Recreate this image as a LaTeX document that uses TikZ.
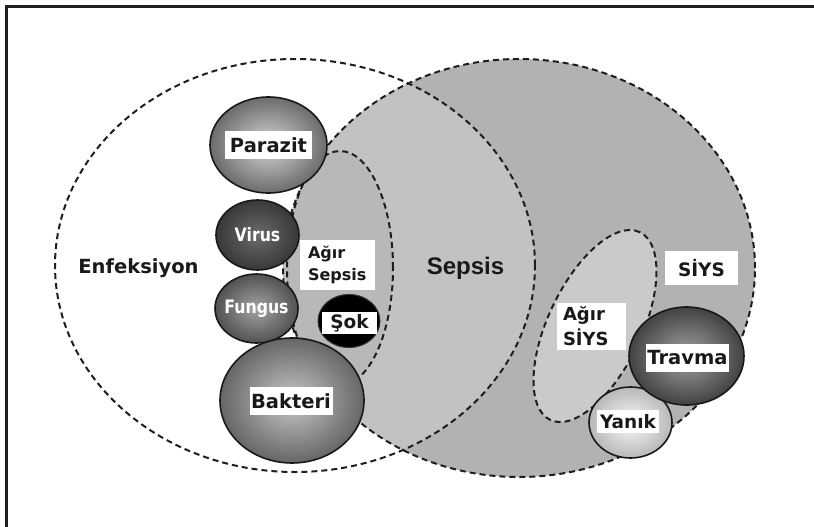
\documentclass[tikz,border=0pt]{standalone}
\usepackage{fontspec}
\setmainfont{DejaVu Sans}
\newfontfamily\condfont{DejaVu Sans}[FakeStretch=0.85]
\newfontfamily\arialfont{Liberation Sans}
\usetikzlibrary{shapes.geometric}
\definecolor{sirsgray}{HTML}{B2B2B2}
\definecolor{sepsgray}{HTML}{C2C2C2}
\definecolor{agsgray}{HTML}{B8B8B8}
\definecolor{agsirgray}{HTML}{CACACA}
\definecolor{linegray}{HTML}{1E1E1E}
\begin{document}
\begin{tikzpicture}[x=1pt,y=-1pt,
  zone/.style={draw=linegray, line width=2pt, dash pattern=on 6pt off 4pt},
  blob/.style={ellipse, draw=black!90, line width=1.6pt, inner sep=0pt, outer sep=0pt},
  tag/.style={fill=white, inner sep=0pt, text=black!90, font=\bfseries\fontsize{19.5}{22}\selectfont},
  whitetag/.style={text=white, inner sep=0pt, font=\condfont\bfseries\fontsize{18.5}{20}\selectfont},
  frameline/.style={draw=black!88, line width=3pt}]
\useasboundingbox (0,0) rectangle (814,527);
\fill[white] (0,0) rectangle (814,527);

% frame (top and left edges only)
\coordinate (ftr) at (814,6.5);
\coordinate (ftl) at (5,6.5);
\coordinate (fbl) at (6.5,527);
\draw[frameline] (ftr) -- (ftl);
\draw[frameline] (6.5,5) -- (fbl);

% zone centres
\coordinate (enfc) at (295,265.5);
\coordinate (sirc) at (519,268);
\coordinate (agsc) at (340,268);
\coordinate (agsirc) at (595,326);

% fills
\fill[sirsgray] (sirc) ellipse [x radius=236pt, y radius=209pt];
\begin{scope}
  \clip (enfc) ellipse [x radius=240pt, y radius=206.5pt];
  \fill[sepsgray] (sirc) ellipse [x radius=236pt, y radius=209pt];
\end{scope}
\fill[agsgray] (agsc) ellipse [x radius=53pt, y radius=117pt];
\fill[agsirgray, rotate around={64.5:(agsirc)}] (agsirc) ellipse [x radius=104pt, y radius=46.7pt];

% dashed outlines
\draw[zone] (sirc) ellipse [x radius=236pt, y radius=209pt];
\draw[zone] (enfc) ellipse [x radius=240pt, y radius=206.5pt];
\draw[zone] (agsc) ellipse [x radius=53pt, y radius=117pt];
\draw[zone, rotate around={64.5:(agsirc)}] (agsirc) ellipse [x radius=104pt, y radius=46.7pt];

% pathogen / cause blobs
\node[blob, minimum width=117pt, minimum height=96pt, inner color=black!16, outer color=black!58] (parazit) at (268.5,145) {};
\node[blob, minimum width=83pt, minimum height=70pt, inner color=black!58, outer color=black!78] (virus) at (257.5,235) {};
\node[blob, minimum width=83pt, minimum height=69pt, inner color=black!36, outer color=black!68] (fungus) at (256.5,308.5) {};
\node[blob, minimum width=144pt, minimum height=125pt, inner color=black!22, outer color=black!60] (bakteri) at (292,400.5) {};
\node[blob, draw=black!80, line width=1pt, fill=black, minimum width=62pt, minimum height=53pt] (sok) at (349,321) {};
\node[blob, minimum width=83pt, minimum height=71pt, inner color=black!2, outer color=black!28] (yanik) at (630.5,422.5) {};
\node[blob, minimum width=115pt, minimum height=98pt, inner color=black!36, outer color=black!74] (travma) at (686.5,356) {};

% labels
\node[tag, font=\bfseries\fontsize{19.5}{22}\selectfont] (tenf) at (138.5,268) {Enfeksiyon};
\node[text=black!90, inner sep=0pt, font=\arialfont\bfseries\fontsize{24}{26}\selectfont] (tsepsis) at (465.5,268) {Sepsis};
\node[tag, minimum width=87pt, minimum height=28pt] (tparazit) at (parazit.center) {Parazit};
\node[whitetag] (tvirus) at (virus.center) {Virus};
\node[whitetag] (tfungus) at (fungus.center) {Fungus};
\node[tag, minimum width=83pt, minimum height=28pt] (tbakteri) at (291,401) {Bakteri};
\node[tag, minimum width=75pt, minimum height=50pt, text width=59pt, inner xsep=8pt, align=left,
      font=\bfseries\fontsize{16}{22}\selectfont] (tagsep) at (337.5,265) {Ağır\\Sepsis};
\node[tag, minimum width=55pt, minimum height=22pt, font=\bfseries\fontsize{18.5}{20}\selectfont] (tsok) at (349.5,323) {Şok};
\node[tag, minimum width=73pt, minimum height=34pt, font=\bfseries\fontsize{18.5}{20}\selectfont] (tsiys) at (701.5,268) {SİYS};
\node[tag, minimum width=69pt, minimum height=47pt, text width=57pt, inner xsep=6pt, align=left,
      font=\bfseries\fontsize{18}{25}\selectfont] (tagsiys) at (591.5,326.5) {Ağır\\SİYS};
\node[tag, minimum width=83pt, minimum height=28pt] (ttravma) at (687.5,358) {Travma};
\node[tag, minimum width=62pt, minimum height=23pt, font=\bfseries\fontsize{18.5}{20}\selectfont] (tyanik) at (628,421.5) {Yanık};
\end{tikzpicture}
\end{document}
